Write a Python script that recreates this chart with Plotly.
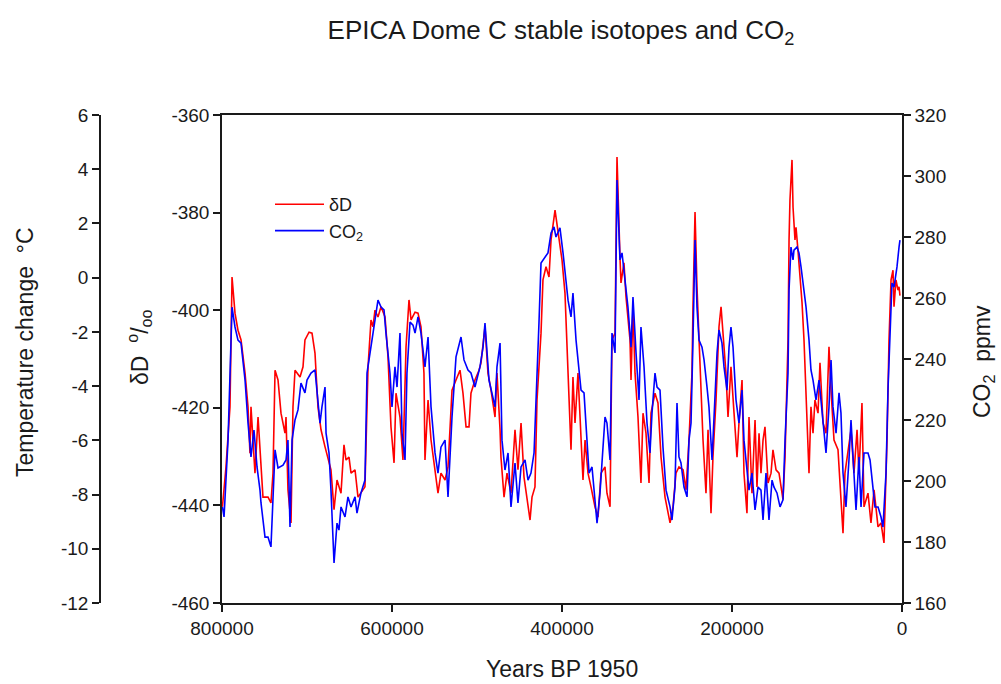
import plotly.graph_objects as go

# EPICA Dome C deuterium record (years before 1950, per mil)
dD_age_yr = [
    799500, 795300, 790600, 788200, 784700, 781200, 777600, 772900, 769400, 767100,
    765900, 761200, 757600, 754100, 751800, 745900, 742400, 740000, 737600, 734100,
    730600, 725900, 724700, 722400, 718800, 716500, 714100, 708200, 704700, 702400,
    697600, 694100, 690600, 687100, 683500, 678800, 675300, 671800, 668200, 664700,
    660000, 656500, 654100, 650600, 648200, 643500, 640000, 636500, 631800, 628200,
    624700, 622400, 620000, 616500, 612900, 608200, 604700, 601200, 597600, 595300,
    590600, 587100, 583500, 580000, 577600, 572900, 569400, 565900, 562400, 561200,
    557600, 554100, 549400, 545900, 542400, 537600, 534100, 529400, 524700, 520000,
    516500, 512900, 509400, 507100, 502400, 497600, 495300, 490600, 487100, 483500,
    478800, 476500, 472900, 471800, 468200, 464700, 460000, 455300, 451800, 448200,
    444700, 441200, 437600, 435300, 431800, 429400, 424700, 422400, 418800, 415300,
    412900, 408200, 403500, 400000, 396500, 394100, 390600, 389400, 387100, 384700,
    381200, 377600, 375300, 372900, 369400, 365900, 361200, 357600, 354100, 349400,
    347100, 343500, 341200, 337600, 335300, 331800, 330600, 327100, 324700, 320000,
    318800, 316500, 314100, 310600, 307100, 304700, 301200, 297600, 295300, 290600,
    287100, 283500, 278800, 272900, 269400, 265900, 262400, 257600, 254100, 250600,
    247100, 245900, 243500, 241200, 238800, 236500, 234100, 230600, 228200, 224700,
    222400, 218800, 215300, 212900, 210600, 207100, 204700, 201200, 197600, 194100,
    191800, 188200, 185900, 182400, 180000, 176500, 172900, 170600, 168200, 165900,
    163500, 161200, 157600, 154100, 151800, 148200, 144700, 140000, 137600, 134100,
    132900, 131800, 129400, 128200, 125900, 124700, 122400, 120000, 117600, 115300,
    111800, 109400, 107100, 104700, 102400, 98800, 96500, 92900, 89400, 85900,
    83500, 80000, 75300, 72900, 69400, 67100, 63500, 60000, 56500, 52900,
    50600, 47100, 44700, 40000, 36500, 32900, 28200, 24700, 21200, 17600,
    15300, 12900, 10600, 9400, 7100, 4700, 3500, 2400,
]
dD_permil = [
    -440.3, -432.1, -419.8, -393.2, -400.6, -404.1, -406.1, -412.9, -419.8, -429.3,
    -419.8, -433.4, -421.9, -433.4, -438.3, -438.3, -439.5, -433.4, -412.3, -414.3,
    -421.1, -425.2, -421.9, -436.8, -443.6, -419.8, -412.3, -413.7, -411.6, -406.1,
    -404.5, -404.7, -408.8, -419.8, -424.5, -428.0, -430.1, -432.7, -440.9, -434.8,
    -437.5, -427.6, -430.7, -430.1, -433.4, -432.7, -438.3, -437.5, -436.2, -411.6,
    -402.0, -403.4, -400.0, -401.4, -399.3, -401.4, -409.6, -423.9, -431.3, -417.0,
    -421.9, -430.7, -407.5, -397.9, -402.0, -400.4, -400.6, -403.4, -412.9, -430.7,
    -418.4, -426.6, -433.4, -437.5, -433.4, -434.8, -432.1, -416.4, -414.3, -412.3,
    -417.0, -423.9, -423.9, -417.0, -414.3, -412.3, -410.8, -403.4, -412.9, -416.4,
    -421.9, -412.9, -424.5, -430.1, -438.3, -433.4, -437.5, -424.5, -432.7, -423.1,
    -434.2, -438.8, -443.0, -438.3, -436.2, -418.4, -404.7, -393.8, -391.1, -393.2,
    -385.6, -379.5, -385.0, -389.7, -396.5, -406.7, -419.8, -428.6, -413.7, -423.1,
    -412.9, -426.6, -434.8, -426.6, -433.4, -436.2, -440.3, -442.4, -433.4, -432.1,
    -437.5, -440.3, -406.1, -404.7, -368.6, -389.1, -394.4, -390.3, -397.3, -406.1,
    -414.3, -399.3, -412.9, -421.9, -435.4, -421.1, -425.2, -435.4, -421.1, -417.0,
    -419.0, -430.1, -438.3, -443.6, -440.3, -433.4, -432.1, -432.7, -436.8, -426.6,
    -412.9, -399.3, -379.9, -395.2, -406.1, -416.4, -426.6, -437.5, -424.5, -441.6,
    -430.1, -418.4, -403.4, -399.3, -404.7, -412.9, -421.9, -411.6, -421.1, -430.1,
    -423.1, -414.3, -433.4, -441.6, -421.9, -437.5, -422.5, -436.2, -425.2, -433.4,
    -426.6, -423.9, -435.4, -433.4, -428.6, -432.7, -433.4, -438.8, -430.1, -406.1,
    -385.6, -377.4, -369.2, -378.9, -385.6, -383.0, -387.7, -392.4, -398.5, -406.1,
    -423.1, -433.4, -419.8, -425.2, -418.4, -421.1, -410.8, -423.1, -425.2, -407.5,
    -416.4, -426.6, -428.6, -434.8, -445.7, -433.4, -429.3, -424.5, -433.4, -424.5,
    -433.4, -419.0, -440.3, -437.5, -443.6, -436.8, -444.4, -443.6, -447.7, -426.6,
    -406.1, -393.8, -391.8, -399.3, -393.8, -395.9, -395.2, -397.0,
]

# EPICA Dome C CO2 record (years before 1950, ppmv)
co2_age_yr = [
    799500, 797600, 792900, 788200, 784700, 781200, 777600, 772900, 769400, 765900,
    762400, 758800, 755300, 754100, 749400, 745900, 742400, 740000, 737600, 734100,
    728200, 724700, 722400, 720000, 717600, 714100, 710600, 707100, 702400, 700000,
    695300, 690600, 688200, 684700, 682400, 678800, 677600, 674100, 671800, 668200,
    664700, 662400, 660000, 655300, 651800, 648200, 643500, 641200, 636500, 631800,
    629400, 624700, 620000, 616500, 612900, 609400, 607100, 602400, 600000, 596500,
    594100, 590600, 588200, 584700, 582400, 578800, 575300, 572900, 569400, 565900,
    561200, 557600, 554100, 549400, 545900, 542400, 537600, 534100, 529400, 524700,
    518800, 515300, 510600, 507100, 502400, 496500, 492900, 490600, 485900, 482400,
    478800, 476500, 472900, 470600, 467100, 463500, 460000, 455300, 451800, 448200,
    443500, 440000, 436500, 432900, 430600, 427100, 424700, 420000, 416500, 412900,
    409400, 407100, 402400, 398800, 396500, 392900, 389400, 387100, 383500, 380000,
    377600, 374100, 371800, 368200, 364700, 361200, 358800, 355300, 352900, 349400,
    347100, 343500, 341200, 337600, 335300, 331800, 329400, 325900, 322400, 318800,
    316500, 312900, 309400, 307100, 303500, 300000, 296500, 294100, 290600, 288200,
    284700, 281200, 277600, 272900, 270600, 267100, 264700, 262400, 260000, 256500,
    252900, 250600, 248200, 245900, 243500, 241200, 238800, 235300, 232900, 229400,
    227100, 223500, 221200, 217600, 215300, 211800, 209400, 205900, 203500, 201200,
    198800, 195300, 191800, 188200, 185900, 182400, 180000, 176500, 172900, 169400,
    165900, 163500, 160000, 156500, 152900, 150600, 147100, 143500, 140000, 137600,
    134100, 132900, 130600, 128200, 127100, 123500, 121200, 118800, 116500, 112900,
    109400, 107100, 104700, 101200, 97600, 95300, 92900, 89400, 85900, 83500,
    81200, 77600, 74100, 71800, 69400, 65900, 62400, 60000, 57600, 54100,
    50600, 48200, 44700, 40000, 37600, 34100, 31800, 28200, 24700, 22400,
    18800, 16500, 14100, 11800, 9400, 5900, 3500, 2400,
]
co2_ppmv = [
    191.5, 188.2, 213.4, 257.0, 250.5, 246.2, 245.2, 233.1, 219.0, 207.9,
    216.7, 204.6, 197.0, 192.8, 181.6, 181.6, 178.4, 197.0, 210.2, 204.3,
    205.2, 206.9, 213.4, 184.9, 213.4, 220.0, 223.3, 232.1, 228.9, 233.1,
    235.4, 236.4, 228.9, 219.0, 224.3, 230.8, 215.7, 209.2, 197.0, 173.1,
    186.2, 183.9, 191.5, 188.2, 194.8, 191.5, 194.8, 189.5, 196.1, 200.3,
    235.4, 243.9, 251.8, 259.3, 257.0, 256.1, 248.5, 235.4, 224.3, 237.4,
    230.8, 248.5, 215.7, 206.9, 235.4, 252.1, 251.1, 248.5, 253.8, 248.5,
    237.4, 247.2, 224.3, 209.2, 202.6, 211.1, 213.4, 194.8, 221.0, 240.7,
    247.2, 239.7, 236.4, 235.4, 230.8, 237.4, 243.9, 251.8, 233.1, 228.9,
    224.3, 237.4, 245.2, 213.4, 203.6, 209.2, 191.5, 205.9, 192.8, 204.6,
    206.9, 200.3, 202.6, 209.2, 224.3, 251.8, 271.5, 273.4, 274.8, 281.3,
    283.3, 280.0, 283.0, 274.8, 268.2, 259.3, 253.8, 261.6, 246.2, 237.4,
    229.8, 228.9, 219.0, 202.6, 204.6, 193.8, 186.2, 196.1, 207.9, 221.0,
    219.0, 206.9, 248.5, 242.0, 298.7, 272.5, 274.8, 265.9, 257.0, 243.9,
    260.3, 242.0, 226.6, 250.5, 237.4, 219.0, 209.2, 222.3, 235.4, 230.8,
    229.8, 211.1, 197.0, 191.5, 187.2, 198.0, 225.6, 207.9, 205.9, 198.0,
    194.8, 213.4, 219.0, 246.2, 279.0, 257.0, 246.2, 243.9, 239.7, 230.8,
    224.3, 206.9, 219.0, 242.0, 249.5, 245.2, 237.4, 229.8, 243.9, 250.5,
    243.9, 226.6, 219.0, 229.8, 213.4, 202.6, 197.0, 202.6, 190.5, 198.0,
    197.0, 187.2, 202.6, 187.2, 200.3, 198.0, 196.1, 191.5, 193.8, 213.4,
    235.4, 262.6, 276.7, 272.5, 275.7, 276.7, 274.8, 270.2, 264.9, 257.0,
    246.2, 236.4, 233.1, 226.6, 233.1, 226.6, 219.0, 209.2, 224.3, 239.7,
    224.3, 215.7, 228.9, 222.3, 202.6, 191.5, 206.9, 220.0, 207.9, 190.5,
    207.9, 191.5, 209.2, 209.2, 206.9, 198.0, 191.5, 191.5, 188.2, 184.9,
    202.6, 229.8, 251.8, 264.9, 263.6, 270.2, 276.7, 279.0,
]

# Axis ticks (plain hyphen for negatives)
age_ticks = [800000, 600000, 400000, 200000, 0]
age_tick_labels = ["800000", "600000", "400000", "200000", "0"]
dD_ticks = [-460, -440, -420, -400, -380, -360]
dD_tick_labels = ["-460", "-440", "-420", "-400", "-380", "-360"]
co2_ticks = [160, 180, 200, 220, 240, 260, 280, 300, 320]
co2_tick_labels = ["160", "180", "200", "220", "240", "260", "280", "300", "320"]
temp_ticks = [-12, -10, -8, -6, -4, -2, 0, 2, 4, 6]
temp_tick_labels = ["-12", "-10", "-8", "-6", "-4", "-2", "0", "2", "4", "6"]

W, H = 1001, 684
FONT = "Liberation Sans, Arial, sans-serif"
INK = "#1a1a1a"

# plot frame in pixels
x0, x1 = 222, 902
y_top, y_bot = 115, 603
xdom = [x0 / W, x1 / W]
ydom = [(H - y_bot) / H, (H - y_top) / H]

fig = go.Figure()
fig.add_trace(go.Scatter(
    x=dD_age_yr, y=dD_permil, name="\u03b4D", mode="lines",
    line=dict(color="#ff0000", width=1.6), yaxis="y",
))
fig.add_trace(go.Scatter(
    x=co2_age_yr, y=co2_ppmv, name="CO<sub>2</sub>", mode="lines",
    line=dict(color="#0000ff", width=1.6), yaxis="y2",
))
# third axis needs a trace so that it renders
fig.add_trace(go.Scatter(x=[None], y=[None], yaxis="y3", showlegend=False, hoverinfo="skip"))

axis_common = dict(
    showline=True, linecolor=INK, linewidth=1.5, ticks="outside", ticklen=7,
    tickwidth=1.5, tickcolor=INK, showgrid=False, zeroline=False,
    tickfont=dict(family=FONT, size=19, color=INK), automargin=False,
)

fig.update_layout(
    width=W, height=H,
    margin=dict(l=0, r=0, t=0, b=0),
    paper_bgcolor="white", plot_bgcolor="white",
    xaxis=dict(
        domain=xdom, range=[800000, 0], tickvals=age_ticks, ticktext=age_tick_labels,
        mirror=True, anchor="y", **axis_common,
    ),
    yaxis=dict(
        domain=ydom, range=[-460, -360], tickvals=dD_ticks, ticktext=dD_tick_labels,
        side="left", anchor="x", **axis_common,
    ),
    yaxis2=dict(
        domain=ydom, range=[160, 320], tickvals=co2_ticks, ticktext=co2_tick_labels,
        side="right", overlaying="y", anchor="x", **axis_common,
    ),
    yaxis3=dict(
        domain=ydom, range=[-12, 6], tickvals=temp_ticks, ticktext=temp_tick_labels,
        side="left", overlaying="y", anchor="free", position=100 / W, **axis_common,
    ),
    showlegend=True,
    legend=dict(
        x=270 / W, y=1 - 186 / H, xanchor="left", yanchor="top",
        bgcolor="rgba(0,0,0,0)", font=dict(family=FONT, size=18, color=INK),
        tracegroupgap=0, itemwidth=49,
    ),
    title=dict(
        text="EPICA Dome C stable isotopes and CO<sub>2</sub>",
        x=561 / W, y=1 - 30 / H, xanchor="center", yanchor="middle",
        font=dict(family=FONT, size=26, color=INK),
    ),
)

title_font = dict(family=FONT, size=23, color=INK)
fig.add_annotation(text="Temperature change  \u00b0C", x=25 / W, y=1 - 352 / H,
                   xref="paper", yref="paper", textangle=-90, showarrow=False,
                   font=title_font, xanchor="center", yanchor="middle")
fig.add_annotation(text="\u03b4D  <sup>o</sup>/<sub>oo</sub>", x=139 / W, y=1 - 348 / H,
                   xref="paper", yref="paper", textangle=-90, showarrow=False,
                   font=title_font, xanchor="center", yanchor="middle")
fig.add_annotation(text="CO<sub>2</sub>  ppmv", x=983 / W, y=1 - 362 / H,
                   xref="paper", yref="paper", textangle=-90, showarrow=False,
                   font=title_font, xanchor="center", yanchor="middle")
fig.add_annotation(text="Years BP 1950", x=562 / W, y=1 - 669 / H,
                   xref="paper", yref="paper", showarrow=False,
                   font=title_font, xanchor="center", yanchor="middle")

fig.write_html("out.html")
